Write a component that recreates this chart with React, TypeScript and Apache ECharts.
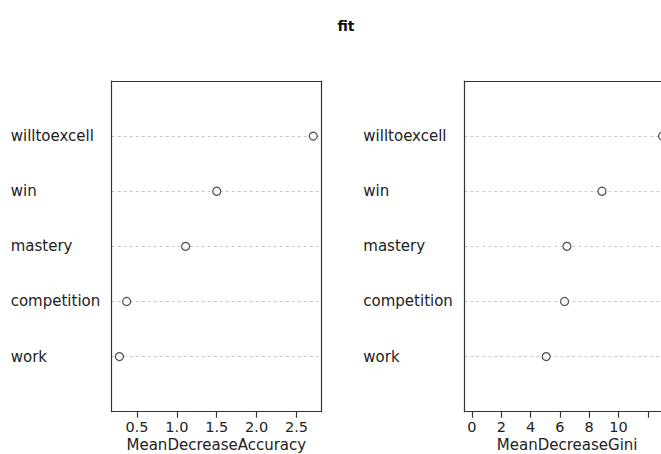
import React, { useEffect, useRef } from "react";
import * as echarts from "echarts";

const variables = ["work", "competition", "mastery", "win", "willtoexcell"];
const meanDecreaseAccuracy = [0.28, 0.37, 1.11, 1.5, 2.71];
const meanDecreaseGini = [5.07, 6.32, 6.48, 8.87, 13.0];
const accuracyTicks = [0.5, 1.0, 1.5, 2.0, 2.5];
const giniTicks = [0, 2, 4, 6, 8, 10, 12];
const giniLabels = [0, 2, 4, 6, 8, 10];
const rowPositions = [1, 2, 3, 4, 5];

const FONT = "DejaVu Sans";
const BOX = "#333";

function makeXAxis(gridIndex: number, min: number, max: number, ticks: number[], labels: number[], name: string, fmt: (v: number) => string) {
  return [
    {
      type: "value",
      gridIndex,
      min,
      max,
      position: "bottom",
      name,
      nameLocation: "middle",
      nameGap: 25.5,
      nameMoveOverlap: false,
      nameTextStyle: { fontFamily: FONT, fontSize: 15, color: "#222", lineHeight: 15 },
      axisLine: { show: true, onZero: false, lineStyle: { color: BOX, width: 1.2 } },
      axisTick: { show: true, customValues: ticks, length: 6, lineStyle: { color: BOX, width: 1.2 } },
      axisLabel: {
        show: true,
        customValues: labels,
        formatter: (v: number) => fmt(v),
        margin: 8.5,
        fontFamily: FONT,
        fontSize: 14.5,
        lineHeight: 14,
        color: "#222",
      },
      splitLine: { show: false },
    },
    {
      type: "value",
      gridIndex,
      min,
      max,
      position: "top",
      axisLine: { show: true, onZero: false, lineStyle: { color: BOX, width: 1.2 } },
      axisTick: { show: false },
      axisLabel: { show: false },
      splitLine: { show: false },
    },
  ];
}

function makeYAxis(gridIndex: number) {
  return [
    {
      type: "value",
      gridIndex,
      min: 0,
      max: 6,
      interval: 1,
      position: "left",
      axisLine: { show: true, onZero: false, lineStyle: { color: BOX, width: 1.2 } },
      axisTick: { show: false },
      axisLabel: {
        show: true,
        customValues: rowPositions,
        formatter: (v: number) => variables[Math.round(v) - 1] ?? "",
        align: "left",
        margin: 101,
        fontFamily: FONT,
        fontSize: 15,
        color: "#222",
      },
      splitLine: {
        show: true,
        showMinLine: false,
        showMaxLine: false,
        lineStyle: { color: "#c8c8c8", type: [3, 3], width: 1 },
      },
    },
    {
      type: "value",
      gridIndex,
      min: 0,
      max: 6,
      position: "right",
      axisLine: { show: true, onZero: false, lineStyle: { color: BOX, width: 1.2 } },
      axisTick: { show: false },
      axisLabel: { show: false },
      splitLine: { show: false },
    },
  ];
}

export default function App() {
  const ref = useRef<HTMLDivElement>(null);
  useEffect(() => {
    if (!ref.current) return;
    const chart = echarts.init(ref.current, null, { renderer: "svg" });
    const marker = {
      type: "scatter",
      symbol: "circle",
      symbolSize: 8,
      itemStyle: { color: "#fff", borderColor: "#222", borderWidth: 1.2 },
      z: 5,
    };
    chart.setOption({
      animation: false,
      backgroundColor: "#fff",
      title: {
        text: "fit",
        left: 341,
        top: 14,
        textAlign: "center",
        textStyle: { fontFamily: FONT, fontSize: 14, fontWeight: "bold", color: "#111" },
      },
      grid: [
        { left: 111.7, right: 340, top: 81, bottom: 42.3, containLabel: false, outerBoundsMode: "none" },
        { left: 464.3, right: -9.1, top: 81, bottom: 42.3, containLabel: false, outerBoundsMode: "none" },
      ],
      xAxis: [
        ...makeXAxis(0, 0.183, 2.807, accuracyTicks, accuracyTicks, "MeanDecreaseAccuracy", (v) => v.toFixed(1)),
        ...makeXAxis(1, -0.52, 13.52, giniTicks, giniLabels, "MeanDecreaseGini", (v) => String(v)),
      ],
      yAxis: [...makeYAxis(0), ...makeYAxis(1)],
      series: [
        {
          ...marker,
          name: "MeanDecreaseAccuracy",
          xAxisIndex: 0,
          yAxisIndex: 0,
          data: meanDecreaseAccuracy.map((v, i) => [v, rowPositions[i]]),
        },
        {
          ...marker,
          name: "MeanDecreaseGini",
          xAxisIndex: 2,
          yAxisIndex: 2,
          data: meanDecreaseGini.map((v, i) => [v, rowPositions[i]]),
        },
      ],
    });
    return () => chart.dispose();
  }, []);
  return (
    <div
      ref={ref}
      style={{ position: "fixed", left: 0, top: 0, width: 661, height: 454, overflow: "hidden" }}
    />
  );
}
